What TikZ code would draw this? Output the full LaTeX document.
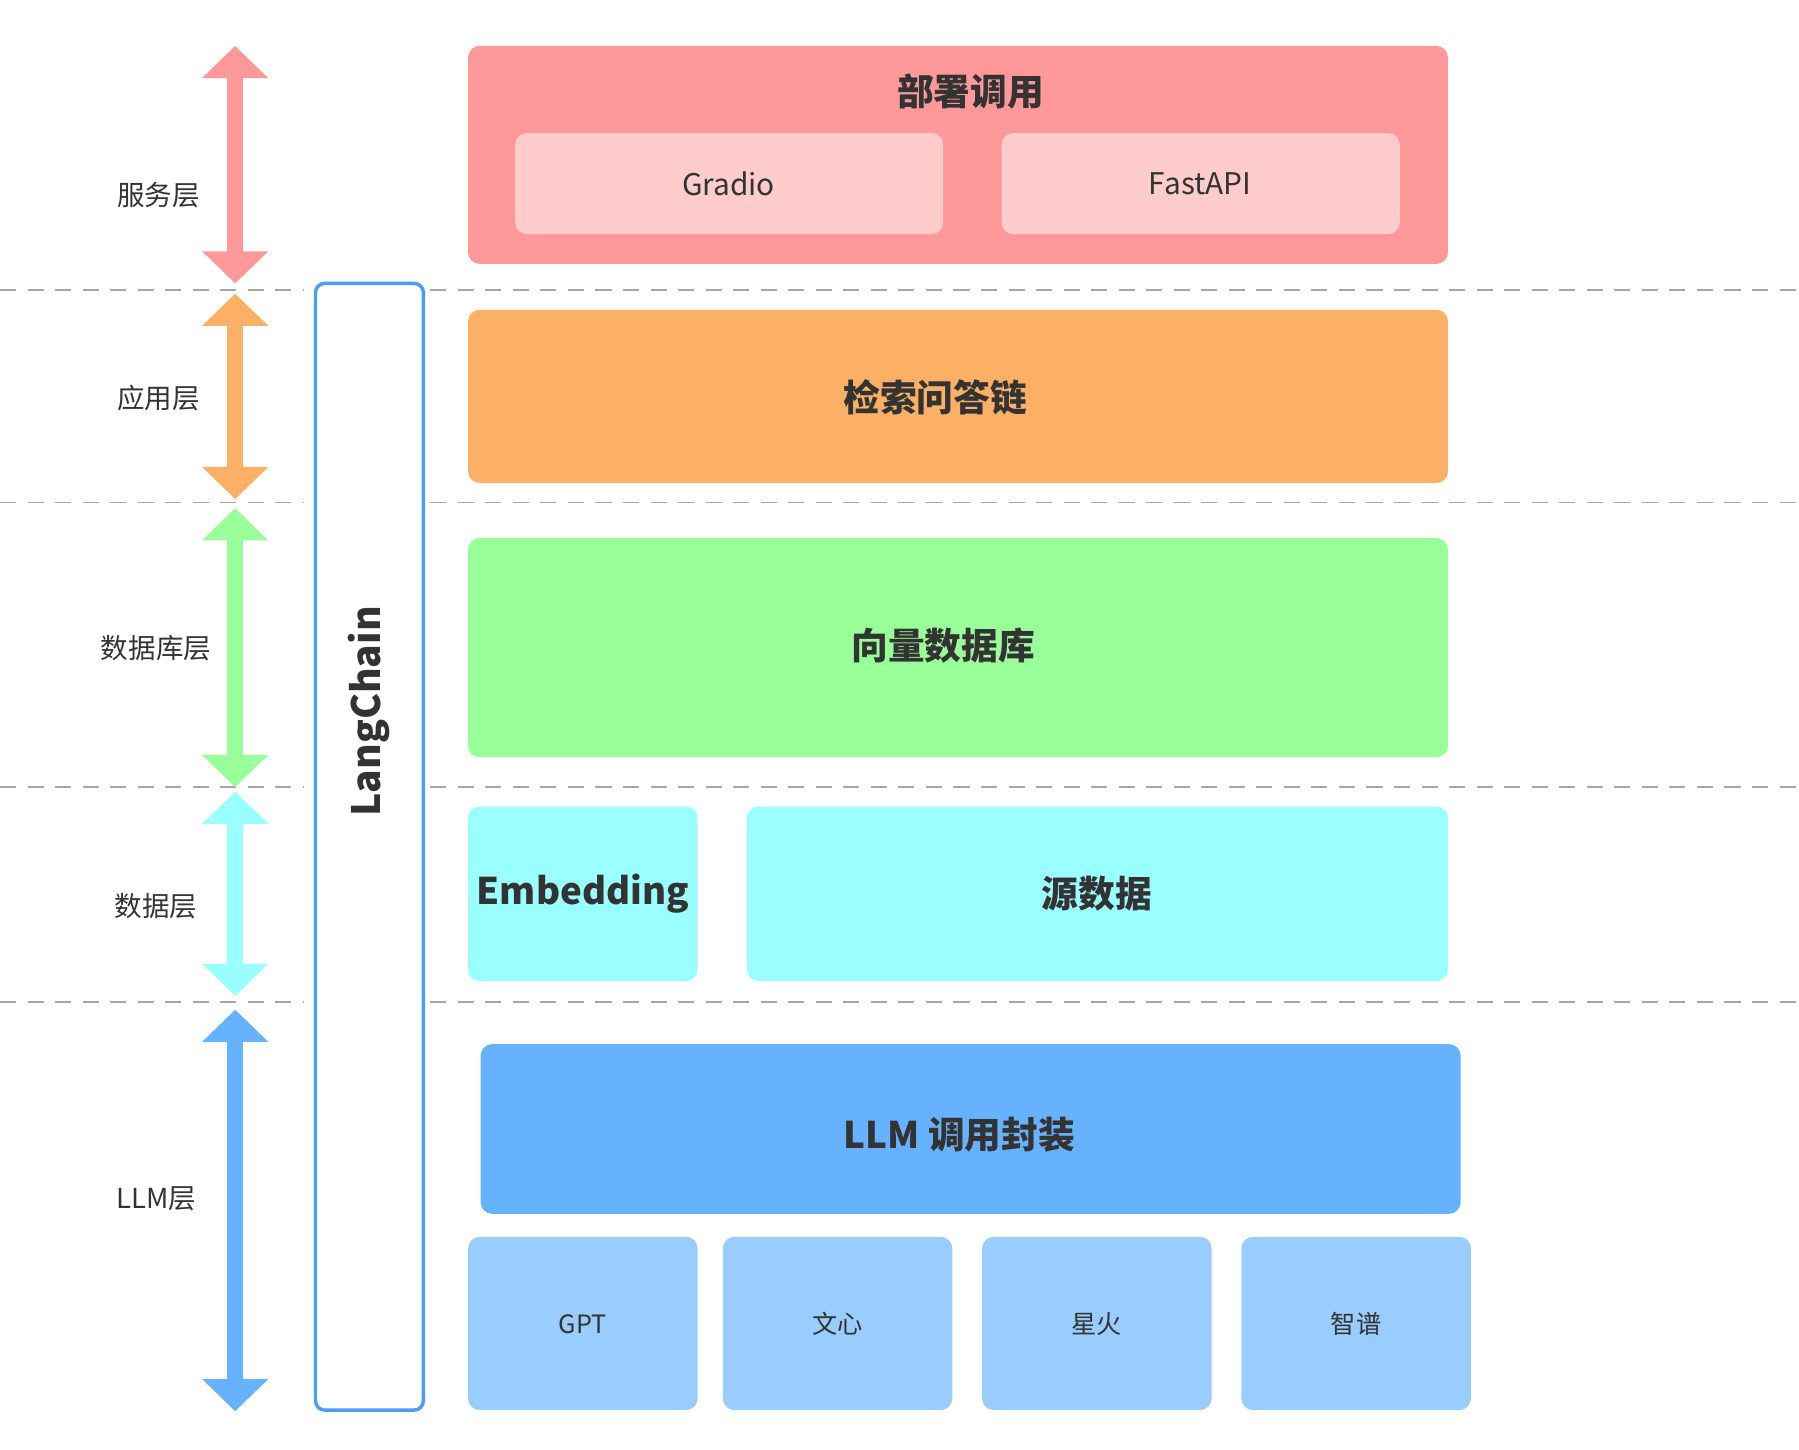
\documentclass[tikz,border=0pt]{standalone}
\usepackage{fontspec}
\setmainfont{Noto Sans CJK SC}
\usetikzlibrary{arrows.meta}
\definecolor{tx}{HTML}{333333}
\definecolor{cP}{HTML}{FF9999}
\definecolor{cPl}{HTML}{FFCCCC}
\definecolor{cO}{HTML}{FBB065}
\definecolor{cG}{HTML}{99FF99}
\definecolor{cC}{HTML}{99FFFF}
\definecolor{cB}{HTML}{66B2FF}
\definecolor{cBl}{HTML}{99CCFF}
\definecolor{cLC}{HTML}{4A9EEF}
\begin{document}
\begin{tikzpicture}[x=0.5pt,y=-0.5pt,
 box/.style={rounded corners=5pt,draw=none,text=tx},
 big/.style={font=\fontsize{16}{18}\selectfont\bfseries},
 lab/.style={text=tx,font=\fontsize{12}{14}\selectfont},
 dsh/.style={draw=gray!70,dashed,dash pattern=on 7pt off 5pt,line width=0.8pt},
 arr/.style={line width=7pt,{Triangle[width=28pt,length=14pt]}-{Triangle[width=28pt,length=14pt]}}]
\useasboundingbox (0,0) rectangle (1568,1263);
% dashed lines
\foreach \y in {253,438,686,873}{
 \draw[dsh] (0,\y) -- (265,\y);
 \draw[dsh] (375,\y) -- (1568,\y);}
% arrows
\coordinate (a1) at (205,40); \coordinate (b1) at (205,247);
\coordinate (a2) at (205,256); \coordinate (b2) at (205,435);
\coordinate (a3) at (205,443); \coordinate (b3) at (205,686);
\coordinate (a4) at (205,690); \coordinate (b4) at (205,868);
\coordinate (a5) at (205,880); \coordinate (b5) at (205,1230);
\draw[arr,cP] (a1) -- (b1);
\draw[arr,cO] (a2) -- (b2);
\draw[arr,cG] (a3) -- (b3);
\draw[arr,cC] (a4) -- (b4);
\draw[arr,cB] (a5) -- (b5);
\node[lab] (l1) at (138,170) {服务层};
\node[lab] (l2) at (138,347) {应用层};
\node[lab] (l3) at (136,565) {数据库层};
\node[lab] (l4) at (136,790) {数据层};
\node[lab] (l5) at (136,1045) {LLM层};
% LangChain
\draw[cLC,line width=1.5pt,rounded corners=4pt,fill=white] (275,247) rectangle (369,1229);
\node[rotate=90,text=tx,font=\fontsize{17}{19}\selectfont\bfseries] (lc) at (322,620) {LangChain};
% boxes
\fill[cP,rounded corners=5pt] (408,40) rectangle (1262,230);
\node[big,text=tx] (dep) at (846,80) {部署调用};
\fill[cPl,rounded corners=5pt] (449,116) rectangle (822,204);
\node[text=tx,font=\fontsize{13}{15}\selectfont] (gr) at (635,160) {Gradio};
\fill[cPl,rounded corners=5pt] (873,116) rectangle (1220,204);
\node[text=tx,font=\fontsize{13}{15}\selectfont] (fa) at (1046,160) {FastAPI};
\fill[cO,rounded corners=5pt] (408,270) rectangle (1262,421);
\node[big,text=tx] (qa) at (815,346) {检索问答链};
\fill[cG,rounded corners=5pt] (408,469) rectangle (1262,660);
\node[big,text=tx] (vdb) at (822,563) {向量数据库};
\fill[cC,rounded corners=5pt] (408,703) rectangle (608,855);
\node[big,text=tx] (emb) at (508,779) {Embedding};
\fill[cC,rounded corners=5pt] (651,703) rectangle (1262,855);
\node[big,text=tx] (src) at (956,779) {源数据};
\fill[cB,rounded corners=5pt] (419,910) rectangle (1273,1058);
\node[big,text=tx] (llm) at (836,989) {LLM 调用封装};
\foreach \x/\t/\n in {408/GPT/g1,630/文心/g2,856/星火/g3,1082/智谱/g4}{
 \fill[cBl,rounded corners=5pt] (\x,1078) rectangle ({\x+200},1229);
 \node[text=tx,font=\fontsize{11}{13}\selectfont] (\n) at ({\x+100},1154) {\t};}
\end{tikzpicture}
\end{document}
